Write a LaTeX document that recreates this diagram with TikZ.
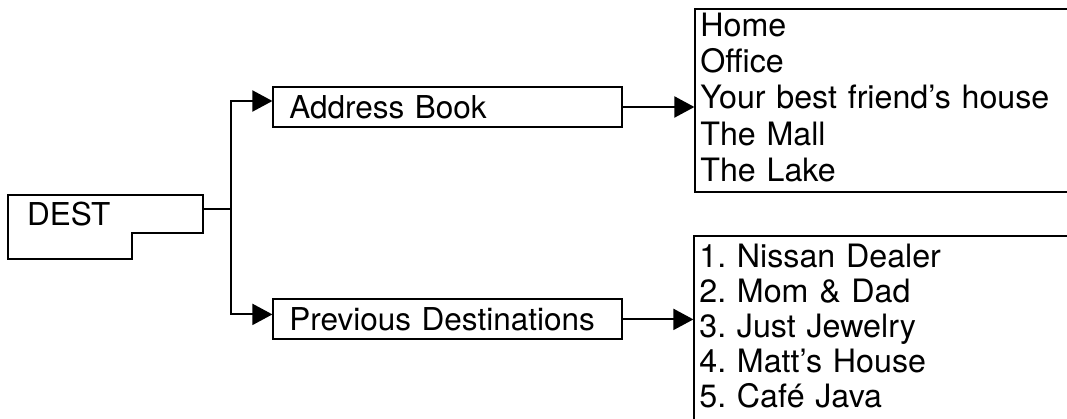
\documentclass[tikz,border=0pt]{standalone}
\usepackage{fontspec}
\setmainfont{TeX Gyre Heros}
\usetikzlibrary{arrows.meta, positioning}
\frenchspacing

\newcommand{\boxline}{2pt}
\newcommand{\menufont}{\fontsize{31.5}{36.2}\selectfont}
\newcommand{\listfont}{\fontsize{32.2}{36.2}\selectfont}

\tikzstyle{start} = [% the top level entry, outline drawn by hand
  rectangle,
  inner xsep=19pt,
  inner ysep=0pt,
  minimum height=38pt,
  text width=157pt,
  align=left,
  font=\menufont
]
\tikzstyle{menu} = [% a menu entry with one label
  rectangle,
  draw=black,
  line width=\boxline,
  inner xsep=16pt,
  inner ysep=0pt,
  minimum height=40pt,
  text width=317pt,
  align=left,
  font=\menufont
]
\tikzstyle{choices} = [% list of choices, cut off at the right
  rectangle,
  draw=black,
  line width=\boxline,
  inner xsep=5pt,
  inner ysep=0pt,
  text width=420pt,
  align=left,
  font=\listfont
]
\tikzstyle{arrow} = [% arrow format
  -{Triangle[length=20pt,width=21pt]},
  line width=\boxline
]

\begin{document}
\begin{tikzpicture}[x=1pt, y=1pt]

\useasboundingbox (0,0) rectangle (1067,418);
\clip (0,0) rectangle (1067,418);

%%% Nodes
\node[start, anchor=north west] (dest) at (8,223) {DEST};
\draw[line width=\boxline] (dest.south east) |- (dest.north west) -- ++(0,-64)
  -| ([xshift=-71pt]dest.south east) -- cycle;

\node[menu, above right=67pt and 69pt of dest.north east] (addr) {Address Book};
\node[menu, below right=65pt and 69pt of dest.south east] (prev) {Previous Destinations};

\node[choices, text height=27pt, text depth=156pt, right=71pt of addr, yshift=6pt] (places)
  {Home\\Office\\Your best friend's house\\The Mall\\The Lake};
\node[choices, font=\fontsize{32.2}{35}\selectfont, text height=32pt, text depth=165pt,
  right=70pt of prev, yshift=-15pt] (recent)
  {1. Nissan Dealer\\2. Mom \& Dad\\3. Just Jewelry\\4. Matt's House\\5. Café Java};

\coordinate (split) at ([xshift=28pt, yshift=5pt]dest.east);


%%% Arrows
\draw[line width=\boxline] ([yshift=5pt]dest.east) -- (split);
\draw[arrow] (split) |- ([yshift=6pt]addr.west);
\draw[arrow] (split) |- ([yshift=5pt]prev.west);
\draw[arrow] (addr.east) -- (places.west |- addr.east);
\draw[arrow] (prev.east) -- (recent.west |- prev.east);

\end{tikzpicture}
\end{document}
